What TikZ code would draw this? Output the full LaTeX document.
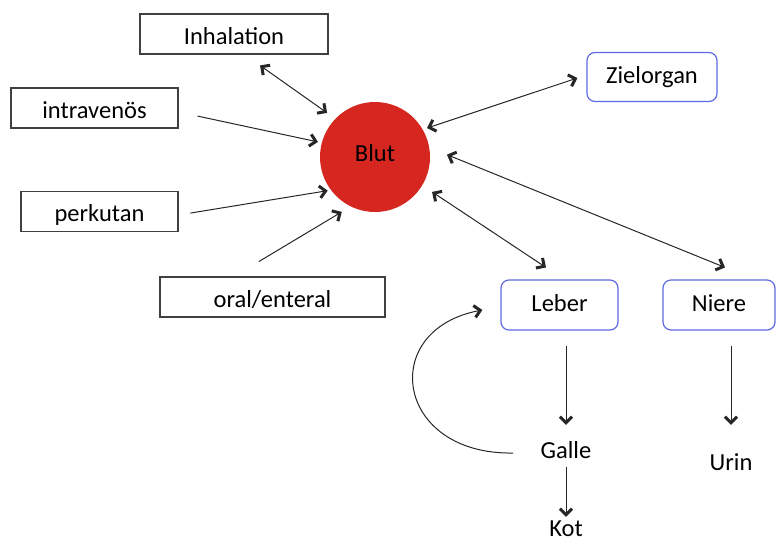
\documentclass[tikz,border=0pt]{standalone}
\usepackage{fontspec}
\setmainfont{Carlito}
\usepackage{tikz}
\usetikzlibrary{arrows.meta,positioning}

\definecolor{blutrot}{RGB}{213,38,32}
\definecolor{rahmenblau}{RGB}{95,105,225}

\tikzset{kopf/.tip={Straight Barb[length=6pt,width=12pt,line width=3pt]}}

\begin{document}
\begin{tikzpicture}[on grid,
    font=\fontsize{24.5}{29}\selectfont,
    every edge/.style={draw, line width=1pt, black!85},
    route/.style={draw=black!75, line width=1.1pt, minimum height=40pt,
      text height=20pt, text depth=0pt, inner sep=0pt},
    organ/.style={draw=rahmenblau, line width=1.2pt, rounded corners=8pt,
      minimum height=50pt, text height=12pt, text depth=0pt, inner sep=0pt},
    stoff/.style={inner sep=0pt, text height=17pt, text depth=0pt}]

  \useasboundingbox (0pt,0pt) rectangle (776pt,-541pt);

  \node[circle, fill=blutrot, minimum size=110pt, inner sep=0pt, outer sep=0pt,
    text height=9.4pt, text depth=0pt] (blut) at (375pt,-157pt) {Blut};

  % Aufnahmewege
  \node[route, minimum width=188pt] (inhal) [above left=123pt and 141pt of blut] {Inhalation};
  \node[route, minimum width=167pt] (intra) [above left=49pt and 280.5pt of blut] {intraven\"os};
  \node[route, minimum width=157pt] (perk) [below left=54.5pt and 275.5pt of blut] {perkutan};
  \node[route, minimum width=225pt] (oral) [below left=140pt and 102.5pt of blut] {oral/enteral};

  % Organe
  \node[organ, minimum width=130pt, minimum height=49pt] (ziel) [above right=80pt and 277pt of blut] {Zielorgan};
  \node[organ, minimum width=117pt] (leber) [below right=148pt and 184.5pt of blut] {Leber};
  \node[organ, minimum width=112pt] (niere) [right=159.5pt of leber] {Niere};

  % Ausscheidung
  \node[stoff] (galle) [below right=144.5pt and 6.5pt of leber] {Galle};
  \node[stoff] (kot) [below=78pt of galle] {Kot};
  \node[stoff] (urin) [below right=156.5pt and 12pt of niere] {Urin};

  \draw[kopf-kopf, line width=1pt, black!85, shorten <=18.9pt, shorten >=10.2pt] ([xshift=10.6pt]inhal.south) -- (blut.136);
  \draw[-kopf, line width=1pt, black!85, shorten <=19.4pt, shorten >=4pt] ([yshift=-4pt]intra.east) -- (blut.165);
  \draw[-kopf, line width=1pt, black!85, shorten <=12pt, shorten >=3.4pt] ([yshift=-3.5pt]perk.east) -- (blut.217);
  \draw[-kopf, line width=1pt, black!85, shorten <=29pt, shorten >=10.6pt] ([xshift=-38.5pt]oral.north) -- (blut.244);
  \draw[kopf-kopf, line width=1pt, black!85, shorten <=9.5pt, shorten >=4.6pt] ([yshift=2pt]ziel.west) -- (blut.30);
  \draw[kopf-kopf, line width=1pt, black!85, shorten <=21.6pt, shorten >=11.9pt] ([xshift=4.5pt]leber.north) -- (blut.329);
  \draw[kopf-kopf, line width=1pt, black!85, shorten <=31.8pt, shorten >=19.2pt] ([xshift=35.5pt]niere.north) -- (blut.10);

  \draw[-kopf, line width=1pt, black!85, shorten <=15pt, shorten >=16pt] (leber.south -| galle.north) -- (galle.north);
  \draw[-kopf, line width=1pt, black!85, shorten <=9pt, shorten >=2pt] (galle.south) -- (kot.north);
  \draw[-kopf, line width=1pt, black!85, shorten <=15pt, shorten >=28pt] (niere.south -| urin.north) -- (urin.north);

  \draw[-kopf, line width=1pt, black!85] ([xshift=-27.4pt,yshift=-3.5pt]galle.west)
    .. controls +(-118pt,-2pt) and +(-105pt,-20pt) .. ([xshift=-18pt,yshift=-5pt]leber.west);
\end{tikzpicture}
\end{document}
